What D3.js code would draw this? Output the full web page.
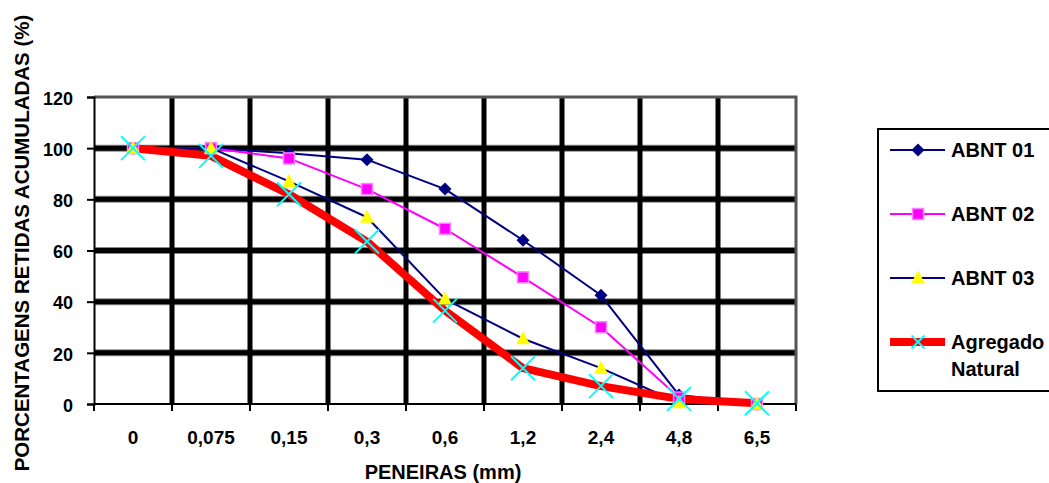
<!DOCTYPE html>
<html>
<head>
<meta charset="utf-8">
<script src="https://d3js.org/d3.v7.min.js"></script>
<style>
  body { margin: 0; padding: 0; background: #fff; }
  svg { display: block; font-family: "Liberation Sans", Arial, sans-serif; font-weight: bold; }
</style>
<title>Peneiras</title>
</head>
<body>
<div id="chart"></div>
<script>
// sieve sizes (categories)
var peneiras = ["0", "0,075", "0,15", "0,3", "0,6", "1,2", "2,4", "4,8", "6,5"];

// series values
var abnt01 = [100, 100, 98, 95.5, 84, 64, 42.5, 3.5, 0];
var abnt02 = [100, 100, 96, 84, 68.5, 49.5, 30, 2.5, 0];
var abnt03 = [100, 100, 87, 73, 41, 25.5, 14, 0.5, 0];
var agregado = [100, 97, 82, 63.5, 36.5, 14, 7, 2, 0.3];

var yTicks = [0, 20, 40, 60, 80, 100, 120];

var series = [
    { name: "ABNT 01", values: abnt01, line: "#000080", width: 2, marker: "diamond", fill: "#000080" },
    { name: "ABNT 02", values: abnt02, line: "#ff00ff", width: 2, marker: "square", fill: "#ff00ff" },
    { name: "ABNT 03", values: abnt03, line: "#000080", width: 2, marker: "triangle", fill: "#ffff00" },
    { name: "Agregado Natural", values: agregado, line: "#ff0000", width: 8, marker: "cross", fill: "#00ffff" }
];

var width = 1049, height = 483;
// plot box (note: "top" is reserved on window, so use other names)
var plotL = 94, plotR = 796, plotT = 97, plotB = 404;

var svg = d3.select("#chart").append("svg")
    .attr("width", width)
    .attr("height", height);

var x = d3.scaleBand()
    .domain(peneiras)
    .range([plotL, plotR]);

var y = d3.scaleLinear()
    .domain([0, 120])
    .range([plotB, plotT]);

// horizontal grid (black with a grey edge)
var hvals = yTicks.filter(function (d) { return d > 0 && d < 120; });
[["#888", 7], ["#000", 5]].forEach(function (st) {
    svg.selectAll(".hgrid" + st[1])
        .data(hvals)
        .enter().append("line")
        .attr("x1", plotL).attr("x2", plotR)
        .attr("y1", function (d) { return y(d); })
        .attr("y2", function (d) { return y(d); })
        .attr("stroke", st[0]).attr("stroke-width", st[1]);
});

// vertical grid at the category boundaries
svg.selectAll(".vgrid")
    .data(peneiras.slice(1))
    .enter().append("line")
    .attr("x1", function (d) { return x(d); })
    .attr("x2", function (d) { return x(d); })
    .attr("y1", y(120)).attr("y2", plotB)
    .attr("stroke", "#000").attr("stroke-width", 5);

// plot border (top and right), grey
svg.append("path")
    .attr("d", "M" + plotL + "," + y(120) + "H" + plotR + "V" + plotB)
    .attr("fill", "none")
    .attr("stroke", "#555").attr("stroke-width", 3);

// y axis
var yAxis = svg.append("g")
    .attr("transform", "translate(" + plotL + ",0)")
    .call(d3.axisLeft(y).tickValues(yTicks).tickSize(7).tickPadding(14));
yAxis.select(".domain").attr("stroke", "#000").attr("stroke-width", 2);
yAxis.selectAll(".tick line").attr("stroke", "#000").attr("stroke-width", 2);
yAxis.selectAll(".tick text")
    .attr("font-size", 18).attr("font-family", "Liberation Sans, Arial, sans-serif")
    .attr("font-weight", "bold").attr("fill", "#000").attr("dy", "0.4em");

// x axis: ticks at the band boundaries, labels in the band centres
var xAxisG = svg.append("g");
xAxisG.append("line")
    .attr("x1", plotL).attr("x2", plotR)
    .attr("y1", plotB).attr("y2", plotB)
    .attr("stroke", "#000").attr("stroke-width", 2);
var bounds = peneiras.map(function (d) { return x(d); }).concat([plotR]);
xAxisG.selectAll(".xt")
    .data(bounds)
    .enter().append("line")
    .attr("x1", function (d) { return d; })
    .attr("x2", function (d) { return d; })
    .attr("y1", plotB).attr("y2", plotB + 7)
    .attr("stroke", "#000").attr("stroke-width", 2);
xAxisG.selectAll(".xl")
    .data(peneiras)
    .enter().append("text")
    .attr("x", function (d) { return x(d) + x.bandwidth() / 2; })
    .attr("y", 444)
    .attr("text-anchor", "middle")
    .attr("font-size", 19)
    .text(function (d) { return d; });

// axis titles
svg.append("text")
    .attr("x", 443).attr("y", 479)
    .attr("text-anchor", "middle")
    .attr("font-size", 20)
    .text("PENEIRAS (mm)");

svg.append("text")
    .attr("transform", "translate(29,243) rotate(-90)")
    .attr("text-anchor", "middle")
    .attr("font-size", 20.5)
    .text("PORCENTAGENS RETIDAS ACUMULADAS (%)");

var cx = function (d, i) { return x(peneiras[i]) + x.bandwidth() / 2; };

// lines first
var line = d3.line()
    .x(function (d, i) { return x(peneiras[i]) + x.bandwidth() / 2; })
    .y(function (d) { return y(d); });

series.forEach(function (s) {
    svg.append("path")
        .datum(s.values)
        .attr("d", line)
        .attr("fill", "none")
        .attr("stroke", s.line)
        .attr("stroke-width", s.width)
        .attr("stroke-linejoin", "round");
});

// marker drawing
function drawMarker(g, s, px, py, big) {
    if (s.marker === "diamond") {
        g.append("path")
            .attr("d", "M" + px + "," + (py - 6.5) + "L" + (px + 6.5) + "," + py + "L" + px + "," + (py + 6.5) + "L" + (px - 6.5) + "," + py + "Z")
            .attr("fill", s.fill);
    } else if (s.marker === "square") {
        g.append("rect")
            .attr("x", px - 5.5).attr("y", py - 5.5)
            .attr("width", 11).attr("height", 11)
            .attr("fill", s.fill)
            .attr("stroke", "#ff80ff").attr("stroke-width", 1.5);
    } else if (s.marker === "triangle") {
        g.append("path")
            .attr("d", "M" + px + "," + (py - 7.5) + "L" + (px + 7) + "," + (py + 5.5) + "L" + (px - 7) + "," + (py + 5.5) + "Z")
            .attr("fill", s.fill);
    } else {
        var r = big ? 12 : 6.5;
        g.append("path")
            .attr("d", "M" + (px - r) + "," + (py - r) + "L" + (px + r) + "," + (py + r) +
                "M" + (px + r) + "," + (py - r) + "L" + (px - r) + "," + (py + r))
            .attr("stroke", s.fill)
            .attr("stroke-width", 2);
    }
}

series.forEach(function (s) {
    var g = svg.append("g");
    s.values.forEach(function (v, i) {
        drawMarker(g, s, cx(v, i), y(v), true);
    });
});

// legend
var legend = svg.append("g");
legend.append("rect")
    .attr("x", 878).attr("y", 129)
    .attr("width", 190).attr("height", 262)
    .attr("fill", "#fff")
    .attr("stroke", "#000").attr("stroke-width", 2);

series.forEach(function (s, i) {
    var ly = 150 + i * 64;
    legend.append("line")
        .attr("x1", 890).attr("x2", 945)
        .attr("y1", ly).attr("y2", ly)
        .attr("stroke", s.line).attr("stroke-width", s.width);
    drawMarker(legend, s, 918, ly, false);
    var words = s.name === "Agregado Natural" ? ["Agregado", "Natural"] : [s.name];
    words.forEach(function (w, j) {
        legend.append("text")
            .attr("x", 951).attr("y", ly + 7 + j * 27)
            .attr("font-size", 20)
            .text(w);
    });
});
</script>
</body>
</html>
